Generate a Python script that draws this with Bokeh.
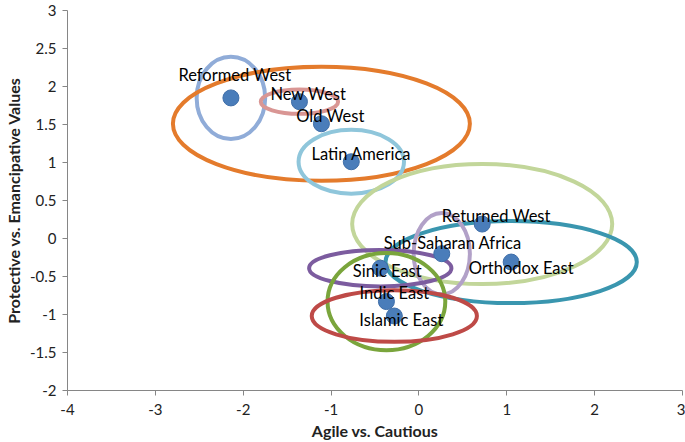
from bokeh.plotting import figure
from bokeh.models import ColumnDataSource, FixedTicker
from bokeh.core.properties import value
from bokeh.embed import file_html
from bokeh.resources import INLINE

groups = ["Reformed West", "New West", "Old West", "Latin America", "Returned West",
          "Orthodox East", "Sub-Saharan Africa", "Sinic East", "Indic East", "Islamic East"]
agile = [-2.14, -1.36, -1.11, -0.77, 0.72, 1.05, 0.26, -0.44, -0.37, -0.28]
protective = [1.85, 1.80, 1.51, 1.01, 0.19, -0.31, -0.20, -0.39, -0.83, -1.02]
spread_x = [0.78, 0.88, 3.38, 1.20, 2.96, 2.86, 0.64, 1.62, 1.34, 1.88]
spread_y = [1.08, 0.32, 1.50, 0.84, 1.58, 1.08, 1.07, 0.48, 1.28, 0.68]
x_ticks = [-4, -3, -2, -1, 0, 1, 2, 3]
y_ticks = [-2, -1.5, -1, -0.5, 0, 0.5, 1, 1.5, 2, 2.5, 3]

ell_colors = ["#90ACD8", "#D99694", "#E47B2C", "#8FC6DB", "#C2D69A",
              "#3A96AF", "#B2A1C8", "#7C5C9F", "#7AA53C", "#BE4A47"]
lab_dx = [4, 9, 9, 10, 14, 10, 11, 7, 8, 7]
lab_dy = [-23, -8, -8, -8, -8, 6, -11, 3, -9, 4]

src = ColumnDataSource(dict(g=groups, x=agile, y=protective, w=spread_x, h=spread_y,
                            c=ell_colors, dx=lab_dx, dy=lab_dy))

FONT = "Lato"

p = figure(width=685, height=442, output_backend="svg", toolbar_location=None,
           x_range=(-4, 3), y_range=(-2, 3),
           min_border_left=65, min_border_right=3, min_border_top=10, min_border_bottom=50)
p.outline_line_color = None
p.grid.visible = False
p.background_fill_color = "white"
p.border_fill_color = "white"

p.ellipse(x="x", y="y", width="w", height="h", source=src, fill_color=None,
          line_color="c", line_width=4)
p.scatter(x="x", y="y", source=src, size=16, fill_color="#4A7DBA", line_color="#3F6EA8",
          line_width=1)
p.text(x="x", y="y", text="g", x_offset="dx", y_offset="dy", source=src,
       text_align="center", text_baseline="middle", text_font=value(FONT),
       text_font_size="16.5px", text_color="black")

for ax, ticks in ((p.xaxis[0], x_ticks), (p.yaxis[0], y_ticks)):
    ax.ticker = FixedTicker(ticks=ticks)
    ax.major_label_overrides = {t: f"{t:g}" for t in ticks}
    ax.axis_line_color = "#868686"
    ax.major_tick_line_color = "#868686"
    ax.major_tick_in = 0
    ax.major_tick_out = 5
    ax.minor_tick_line_color = None
    ax.major_label_text_font = FONT
    ax.major_label_text_font_size = "15px"
    ax.major_label_text_color = "#222222"
    ax.axis_label_text_font = FONT
    ax.axis_label_text_font_size = "16px"
    ax.axis_label_text_font_style = "bold"
    ax.axis_label_text_color = "#222222"

p.xaxis.axis_label = "Agile vs. Cautious"
p.yaxis.axis_label = "Protective vs. Emancipative Values"
p.xaxis.major_label_standoff = 8
p.yaxis.major_label_standoff = 6
p.xaxis.axis_label_standoff = 3
p.yaxis.axis_label_standoff = 4

open("out.html", "w").write(file_html(p, INLINE))
